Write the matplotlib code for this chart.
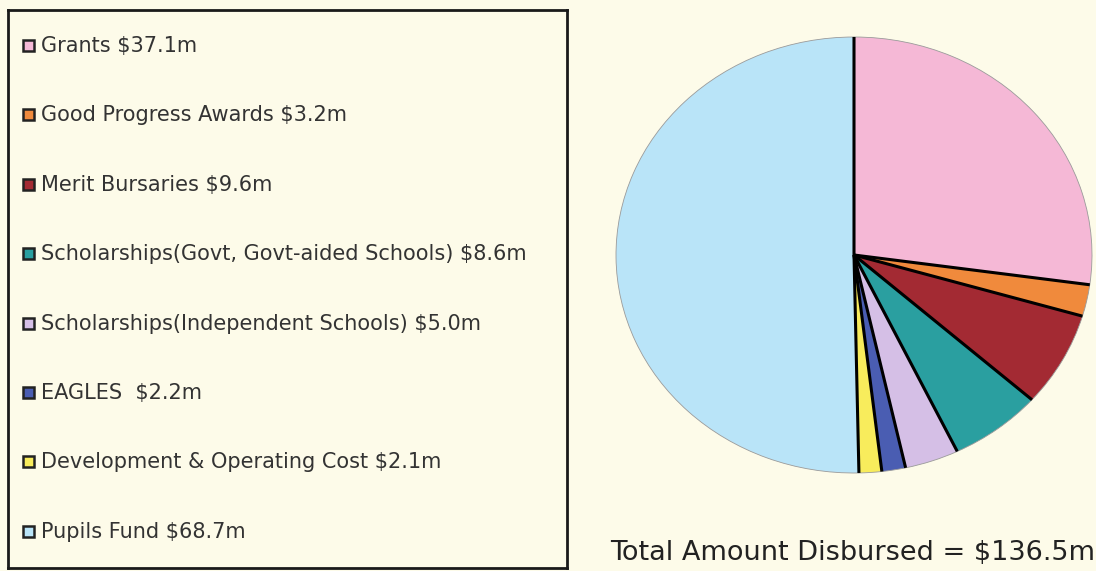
import matplotlib

matplotlib.use("Agg")
import matplotlib.pyplot as plt
import numpy as np
from matplotlib.patches import Rectangle

# --- data -----------------------------------------------------------------
labels = [
    "Grants $37.1m",
    "Good Progress Awards $3.2m",
    "Merit Bursaries $9.6m",
    "Scholarships(Govt, Govt-aided Schools) $8.6m",
    "Scholarships(Independent Schools) $5.0m",
    "EAGLES  $2.2m",
    "Development & Operating Cost $2.1m",
    "Pupils Fund $68.7m",
]
values = [37.1, 3.2, 9.6, 8.6, 5.0, 2.2, 2.1, 68.7]
colors = ["#f5b8d6", "#f08a3c", "#a32a33", "#2a9fa0",
          "#d5bfe6", "#4a5db2", "#f8ec5c", "#b9e4f8"]
total_text = "Total Amount Disbursed = $136.5m"

W, H = 1096, 571
BG = "#fdfbe9"

fig = plt.figure(figsize=(W / 100, H / 100), dpi=100, facecolor=BG)

# --- pie (slightly elliptical, like the source) ---------------------------
pad = 1.02
left, right, top, bottom = 616, 1092, 37, 473
cx, cy = (left + right) / 2, (top + bottom) / 2
rx, ry = (right - left) / 2 * pad, (bottom - top) / 2 * pad
ax = fig.add_axes([(cx - rx) / W, (H - cy - ry) / H, 2 * rx / W, 2 * ry / H])
wedges, _ = ax.pie(values, colors=colors, startangle=90, counterclock=False,
                   wedgeprops=dict(edgecolor="#9a9a9a", linewidth=0.6))
# black separators only along the radii, outer rim stays soft
for w in wedges:
    a = np.deg2rad(w.theta1)
    ax.plot([0, np.cos(a)], [0, np.sin(a)], color="black", lw=2.2,
            solid_capstyle="butt")
ax.set_aspect("auto")
ax.set_xlim(-pad, pad)
ax.set_ylim(-pad, pad)
ax.axis("off")

# --- legend box ------------------------------------------------------------
bx0, by0, bx1, by1 = 8, 10, 567, 568
lax = fig.add_axes([bx0 / W, (H - by1) / H, (bx1 - bx0) / W, (by1 - by0) / H])
lax.set_xlim(bx0, bx1)
lax.set_ylim(by1, by0)
lax.set_facecolor(BG)
lax.set_xticks([])
lax.set_yticks([])
for sp in lax.spines.values():
    sp.set_linewidth(2)
    sp.set_color("#1a1a1a")

row0, step = 46, 69.4
for i, (lab, col) in enumerate(zip(labels, colors)):
    y = row0 + i * step
    lax.add_patch(Rectangle((23, y - 6), 11, 11, facecolor=col,
                            edgecolor="#222222", linewidth=1.8))
    lax.text(41, y, lab, fontsize=15, color="#333333", va="center",
             ha="left", family="DejaVu Sans", clip_on=True)

fig.text(1095 / W, 1 - 553 / H, total_text, fontsize=19.5, color="#222222",
         ha="right", va="center", family="DejaVu Sans")

fig.savefig("out.png", dpi=100, facecolor=BG)
